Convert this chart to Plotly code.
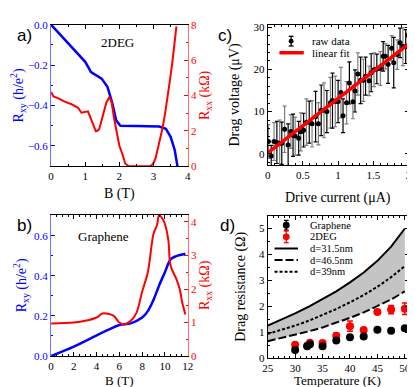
import plotly.graph_objects as go

W, H = 415, 387
SERIF = "Liberation Serif"
SANS = "Liberation Sans"
BLUE = "#0000ff"
RED = "#ff0000"

# a) 2DEG: Hall (Rxy) and longitudinal (Rxx) resistance vs field
b_a_xy = [0, 0.5, 1.0, 1.17, 1.38, 1.48, 1.65, 1.79, 1.91, 2.03, 2.5, 3.0, 3.17, 3.36, 3.5, 3.62, 3.7]
rxy_a = [0, -0.092, -0.184, -0.235, -0.256, -0.267, -0.307, -0.387, -0.475, -0.5, -0.502, -0.503,
         -0.504, -0.515, -0.555, -0.62, -0.7]
b_a_xx = [0, 0.07, 0.2, 0.4, 0.6, 0.79, 0.89, 0.95, 1.0, 1.08, 1.17, 1.25, 1.31, 1.36, 1.41, 1.48,
          1.55, 1.62, 1.7, 1.77, 1.84, 1.94, 2.0, 2.08, 2.17, 2.27, 2.89, 2.95, 3.0, 3.06, 3.12,
          3.2, 3.27, 3.34, 3.41, 3.48, 3.55, 3.6, 3.65, 3.67]
rxx_a = [4.2, 3.94, 3.85, 3.65, 3.5, 3.3, 3.02, 3.05, 3.1, 3.1, 2.66, 2.2, 1.98, 2.0, 2.1, 2.6,
         3.1, 3.6, 3.88, 3.66, 2.75, 1.65, 1.15, 0.73, 0.15, 0.0, 0.0, 0.06, 0.18, 0.45, 0.92,
         1.55, 2.2, 3.0, 3.85, 4.85, 5.86, 6.8, 7.78, 7.9]

# b) Graphene
b_b_xy = [0, 2, 4, 5, 6, 7, 8, 8.5, 9, 9.5, 10, 10.5, 11, 11.8]
rxy_b = [0, 0.047, 0.103, 0.13, 0.155, 0.163, 0.192, 0.224, 0.28, 0.353, 0.418, 0.482, 0.498, 0.51]
b_b_xx = [0, 2, 3, 4, 4.5, 5, 5.5, 6, 6.5, 7, 7.5, 8, 8.5, 9, 9.3, 9.5, 9.8, 10, 10.3, 10.5, 11,
          11.3, 11.5, 11.8]
rxx_b = [0.97, 1.0, 1.05, 1.15, 1.27, 1.26, 1.2, 1.0, 0.95, 1.05, 1.29, 1.92, 2.5, 3.65, 3.9, 4.21,
         4.09, 3.94, 3.46, 2.69, 2.3, 2.0, 1.63, 1.24]

# c) Drag voltage vs drive current
i_drive = [0.01, 0.05, 0.09, 0.13, 0.17, 0.2, 0.24, 0.29, 0.33, 0.36, 0.39, 0.44, 0.47, 0.51, 0.55,
           0.59, 0.63, 0.68, 0.72, 0.76, 0.8, 0.84, 0.89, 0.92, 0.96, 1.0, 1.04, 1.07, 1.12, 1.16,
           1.21, 1.24, 1.28, 1.32, 1.36, 1.39, 1.44, 1.47, 1.51, 1.55, 1.6, 1.64, 1.67, 1.71, 1.76,
           1.79, 1.84, 1.88, 1.92, 1.96, 1.99]
v_drag = [2.9, -0.5, 2.9, 2.7, 2.5, 2.5, 5.8, 2.1, 5.3, 4.4, 4.2, 3.7, 5.2, 5.6, 7.5, 7.5, 7.1, 8.8,
          7.1, 10.3, 10.3, 10.0, 12.1, 12.6, 12.4, 12.4, 14.5, 9.0, 12.1, 16.8, 12.3, 14.9, 18.9,
          17.4, 17.4, 18.4, 17.3, 19.2, 19.9, 20.1, 20.2, 23.1, 23.1, 21.2, 25.0, 21.6, 23.5, 26.3,
          25.4, 25.4, 28.1]
v_err = [4, 2.5, 4.5, 5, 5.5, 5, 5.5, 5, 4, 5, 4.5, 4, 4.5, 4, 5.5, 5, 5.5, 6, 5, 6, 6.5, 5, 6,
         6.5, 6, 5, 6, 4, 5, 5, 4, 5, 5, 5.5, 5, 4.5, 3.5, 4.5, 4, 3.5, 4, 3.5, 3, 4.5, 3, 6, 3.5,
         3.5, 4.5, 4, 3]
fit_i = [0, 2]
fit_v = [0.2, 26.0]

# d) Drag resistance vs temperature
temp = [30, 32.2, 32.7, 35, 37.5, 40, 42.5, 45, 47.5, 50]
r_graphene = [0.31, 0.45, 0.53, 0.45, 0.68, 0.80, 0.83, 1.09, 1.05, 1.15]
r_graphene_err = [0.05, 0.05, 0.05, 0.05, 0.05, 0.05, 0.05, 0.05, 0.05, 0.05]
r_2deg = [0.51, 0.47, 0.59, 0.58, 0.86, 1.23, 1.08, 1.78, 1.87, 1.9]
r_2deg_err = [0.07, 0.06, 0.07, 0.06, 0.1, 0.2, 0.06, 0.07, 0.16, 0.22]
t_model = [25, 27.5, 30, 32.5, 35, 37.5, 40, 42.5, 45, 47.5, 50]
r_d315 = [1.25, 1.48, 1.72, 1.98, 2.26, 2.57, 2.92, 3.3, 3.75, 4.3, 5.0]
r_d465 = [0.65, 0.77, 0.9, 1.03, 1.18, 1.35, 1.55, 1.76, 2.0, 2.26, 2.57]
r_d39 = [0.93, 1.08, 1.25, 1.44, 1.65, 1.89, 2.15, 2.43, 2.75, 3.12, 3.55]


def px(x, y):
    return x / W, 1 - y / H


def dom_x(x0, x1):
    return [x0 / W, x1 / W]


def dom_y(top, bottom):
    return [1 - bottom / H, 1 - top / H]


fig = go.Figure()

# panel a
fig.add_trace(go.Scatter(x=b_a_xy, y=rxy_a, mode="lines", line=dict(color=BLUE, width=2.5),
                         xaxis="x", yaxis="y", showlegend=False))
fig.add_trace(go.Scatter(x=b_a_xx, y=rxx_a, mode="lines", line=dict(color=RED, width=2),
                         xaxis="x", yaxis="y2", showlegend=False))
# panel b
fig.add_trace(go.Scatter(x=b_b_xy, y=rxy_b, mode="lines", line=dict(color=BLUE, width=2.5),
                         line_shape="spline", xaxis="x2", yaxis="y3", showlegend=False))
fig.add_trace(go.Scatter(x=b_b_xx, y=rxx_b, mode="lines", line=dict(color=RED, width=2),
                         line_shape="spline", xaxis="x2", yaxis="y4", showlegend=False))

# panel c, error bars alternate grey / black
for k, col in [(0, "#808080"), (1, "black")]:
    fig.add_trace(go.Scatter(
        x=i_drive[k::2], y=v_drag[k::2], mode="markers",
        marker=dict(color="black", size=5),
        error_y=dict(type="data", array=v_err[k::2], color=col, thickness=1.2, width=2),
        xaxis="x3", yaxis="y5", showlegend=False))
fig.add_trace(go.Scatter(x=fit_i, y=fit_v, mode="lines", line=dict(color=RED, width=3.5),
                         xaxis="x3", yaxis="y5", showlegend=False))

# panel d
fig.add_trace(go.Scatter(x=t_model, y=r_d465, mode="lines",
                         line=dict(color="black", width=2, dash="8px,3px"),
                         xaxis="x4", yaxis="y6", showlegend=False))
fig.add_trace(go.Scatter(x=t_model, y=r_d315, mode="lines", fill="tonexty",
                         fillcolor="#c4c4c4", line=dict(color="black", width=2),
                         xaxis="x4", yaxis="y6", showlegend=False))
fig.add_trace(go.Scatter(x=t_model, y=r_d39, mode="lines",
                         line=dict(color="black", width=2, dash="3px,2px"),
                         xaxis="x4", yaxis="y6", showlegend=False))
fig.add_trace(go.Scatter(x=temp, y=r_2deg, mode="markers", marker=dict(color=RED, size=8),
                         error_y=dict(type="data", array=r_2deg_err, color=RED, thickness=1.5, width=3),
                         xaxis="x4", yaxis="y6", showlegend=False))
fig.add_trace(go.Scatter(x=temp, y=r_graphene, mode="markers", marker=dict(color="black", size=8),
                         error_y=dict(type="data", array=r_graphene_err, color="black", thickness=1.5, width=3),
                         xaxis="x4", yaxis="y6", showlegend=False))

tickfont = dict(family=SERIF, size=11, color="black")


def xax(domain, anchor, rng, dtick, minor):
    return dict(domain=domain, anchor=anchor, range=rng, dtick=dtick, showline=True,
                linecolor="black", linewidth=1, mirror="ticks", ticks="inside", ticklen=4,
                tickcolor="black", minor=dict(ticks="inside", ticklen=2, dtick=minor, tickcolor="black"),
                showgrid=False, zeroline=False, tickfont=tickfont)


def yax(domain, anchor, rng, dtick, minor, title, color="black", mirror="ticks", side="left",
        overlaying=None, fmt=None, standoff=4):
    d = dict(domain=domain, anchor=anchor, range=rng, dtick=dtick, showline=True,
             linecolor=color if color == "black" else ("#7070ff" if color == BLUE else "#ff7070"),
             linewidth=1, mirror=mirror, ticks="inside", ticklen=4, tickcolor="black" if color == "black" else color,
             minor=dict(ticks="inside", ticklen=2, dtick=minor), side=side,
             showgrid=False, zeroline=False, tickfont=dict(family=SERIF, size=11, color=color),
             title=dict(text=title, font=dict(family=SERIF, size=14, color=color), standoff=standoff))
    if overlaying:
        d["overlaying"] = overlaying
    if fmt:
        d["tickformat"] = fmt
    return d


dxa = dom_x(39, 179)
dxc = dom_x(261, 406)
fig.update_layout(
    width=W, height=H, autosize=False,
    margin=dict(l=0, r=0, t=0, b=0),
    plot_bgcolor="white", paper_bgcolor="white",
    xaxis=xax(dxa, "y", [0, 4], 1, 0.5),
    yaxis=yax(dom_y(11, 157), "x", [-0.7, 0], 0.2, 0.1, "R<sub>xy</sub> (h/e<sup>2</sup>)",
              color=BLUE, mirror=False, fmt=".1f"),
    yaxis2=yax(dom_y(11, 157), "x", [0, 8], 2, 1, "R<sub>xx</sub> (kΩ)", color=RED,
               mirror=False, side="right", overlaying="y", standoff=0),
    xaxis2=xax(dxa, "y3", [0, 12], 2, 0.5),
    yaxis3=yax(dom_y(207, 353), "x2", [0, 0.705], 0.2, 0.1, "R<sub>xy</sub> (h/e<sup>2</sup>)",
               color=BLUE, mirror=False, fmt=".1f"),
    yaxis4=yax(dom_y(207, 353), "x2", [0, 4.22], 1, 0.5, "R<sub>xx</sub> (kΩ)", color=RED,
               mirror=False, side="right", overlaying="y3", standoff=0),
    xaxis3=xax(dxc, "y5", [0, 2.01], 0.5, 0.1),
    yaxis5=yax(dom_y(11, 156), "x3", [-2.7, 30.6], 10, 2, "Drag voltage (μV)", standoff=10),
    xaxis4=xax(dxc, "y6", [25, 50.8], 5, 1),
    yaxis6=yax(dom_y(208, 355), "x4", [0, 5.5], 1, 0.5, "Drag resistance (Ω)", standoff=10),
)

ann = []
shapes = []


def label(x, y, text, size=17, family=SANS, xanchor="center"):
    xp, yp = px(x, y)
    ann.append(dict(x=xp, y=yp, xref="paper", yref="paper", text=text, showarrow=False,
                    xanchor=xanchor, yanchor="middle", borderpad=0,
                    font=dict(family=family, size=size, color="black")))


label(12, 22, "a)")
label(12, 218, "b)")
label(217, 22, "c)")
label(220, 218, "d)")

# x axis titles
label(109, 186, "B (T)", size=14, family=SERIF)
label(109, 378, "B (T)", size=13, family=SERIF)
label(333, 190, "Drive current (μA)", size=14, family=SERIF)
label(333, 378, "Temperature (K)", size=13, family=SERIF)

ann.append(dict(x=1.95, y=-0.09, xref="x", yref="y", text="2DEG", showarrow=False,
                font=dict(family=SERIF, size=13, color="black")))
ann.append(dict(x=4.6, y=0.595, xref="x2", yref="y3", text="Graphene", showarrow=False,
                font=dict(family=SERIF, size=13, color="black")))


def glyph_line(x0, x1, y, color, width, dash="solid"):
    a, b = px(x0, y)
    c, _ = px(x1, y)
    shapes.append(dict(type="line", xref="paper", yref="paper", x0=a, x1=c, y0=b, y1=b,
                       line=dict(color=color, width=width, dash=dash)))


def glyph_marker(cx, cy, r, err, color):
    x0, y0 = px(cx, cy + err)
    _, y1 = px(cx, cy - err)
    shapes.append(dict(type="line", xref="paper", yref="paper", x0=x0, x1=x0, y0=y0, y1=y1,
                       line=dict(color=color, width=1.3)))
    for e in (err, -err):
        a, b = px(cx - 2.5, cy + e)
        c, _ = px(cx + 2.5, cy + e)
        shapes.append(dict(type="line", xref="paper", yref="paper", x0=a, x1=c, y0=b, y1=b,
                           line=dict(color=color, width=1.3)))
    a, b = px(cx - r, cy + r)
    c, d = px(cx + r, cy - r)
    shapes.append(dict(type="circle", xref="paper", yref="paper", x0=a, x1=c, y0=d, y1=b,
                       fillcolor=color, line=dict(color=color, width=0)))


# legend c
glyph_marker(285, 28, 2.5, 5, "black")
glyph_line(273, 298, 40, RED, 3.5)
label(305, 28, "raw data", size=11, family=SERIF, xanchor="left")
label(305, 40, "linear fit", size=11, family=SERIF, xanchor="left")

# legend d
glyph_marker(280, 218, 3.5, 5, "black")
glyph_marker(280, 230, 3.5, 6, RED)
glyph_line(268, 292, 242, "black", 2)
glyph_line(268, 292, 254, "black", 2, "8px,3px")
glyph_line(268, 292, 266, "black", 2, "3px,2px")
for yy, t in [(218, "Graphene"), (230, "2DEG"), (242, "d=31.5nm"), (254, "d=46.5nm"), (266, "d=39nm")]:
    label(303, yy, t, size=10.5, family=SERIF, xanchor="left")

fig.update_layout(annotations=ann, shapes=shapes)
fig.write_html("out.html")
